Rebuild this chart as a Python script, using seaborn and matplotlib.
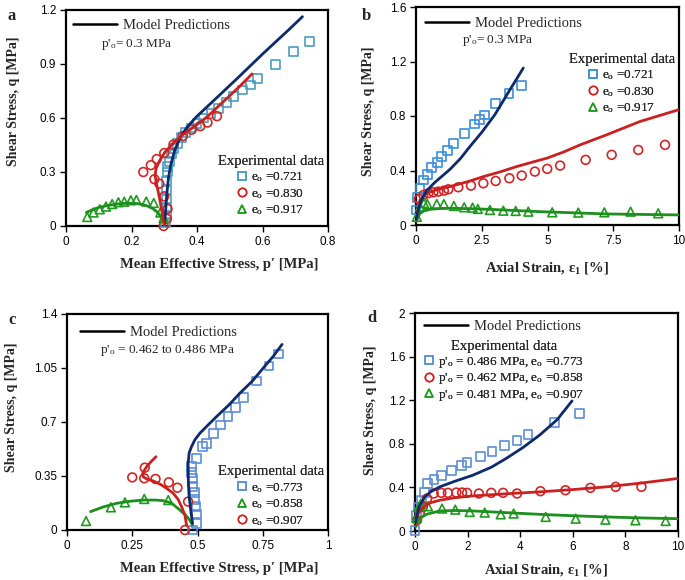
import matplotlib
matplotlib.use("Agg")
import matplotlib.pyplot as plt
import seaborn as sns
from matplotlib.lines import Line2D

# ---------------- Panel a : q vs p' (p'o = 0.3 MPa) ----------------
a_sq_p = [0.305, 0.306, 0.306, 0.307, 0.307, 0.308, 0.309, 0.311, 0.315, 0.322, 0.330, 0.340,
          0.352, 0.366, 0.382, 0.400, 0.420, 0.443, 0.466, 0.489, 0.512, 0.540, 0.563, 0.584,
          0.640, 0.695, 0.744]
a_sq_q = [0.02, 0.06, 0.10, 0.15, 0.20, 0.25, 0.30, 0.33, 0.36, 0.40, 0.43, 0.46,
          0.49, 0.52, 0.545, 0.57, 0.60, 0.625, 0.651, 0.688, 0.718, 0.755, 0.783, 0.820,
          0.899, 0.968, 1.027]
a_ci_p = [0.298, 0.308, 0.310, 0.300, 0.285, 0.270, 0.236, 0.259, 0.277, 0.300, 0.328, 0.357,
          0.384, 0.410, 0.432, 0.461]
a_ci_q = [0.00, 0.04, 0.095, 0.165, 0.235, 0.26, 0.300, 0.338, 0.372, 0.405, 0.452, 0.500,
          0.535, 0.555, 0.575, 0.610]
a_tr_p = [0.065, 0.084, 0.103, 0.122, 0.141, 0.160, 0.178, 0.198, 0.215, 0.245, 0.268, 0.288, 0.298]
a_tr_q = [0.05, 0.075, 0.093, 0.108, 0.122, 0.132, 0.135, 0.143, 0.145, 0.136, 0.128, 0.075, 0.045]
a_mb_p = [0.300, 0.304, 0.308, 0.313, 0.320, 0.332, 0.348, 0.370, 0.400, 0.450, 0.520, 0.600, 0.680, 0.722]
a_mb_q = [0.0, 0.08, 0.18, 0.27, 0.34, 0.42, 0.49, 0.55, 0.61, 0.695, 0.815, 0.955, 1.09, 1.163]
a_mr_p = [0.300, 0.293, 0.285, 0.277, 0.272, 0.275, 0.285, 0.302, 0.325, 0.355, 0.390, 0.430, 0.480, 0.530, 0.568]
a_mr_q = [0.0, 0.08, 0.16, 0.23, 0.28, 0.32, 0.36, 0.41, 0.455, 0.505, 0.55, 0.605, 0.69, 0.775, 0.845]
a_mg_p = [0.062, 0.080, 0.100, 0.130, 0.160, 0.190, 0.220, 0.245, 0.265, 0.280, 0.292, 0.300]
a_mg_q = [0.075, 0.090, 0.103, 0.115, 0.123, 0.127, 0.124, 0.114, 0.097, 0.075, 0.048, 0.015]

# ---------------- Panel b : q vs axial strain (p'o = 0.3 MPa) ----------------
b_sq_e = [0.0, 0.05, 0.15, 0.28, 0.43, 0.60, 0.81, 0.98, 1.19, 1.44, 1.83, 2.21, 2.41, 2.59, 3.03, 3.54, 4.02]
b_sq_q = [0.11, 0.203, 0.27, 0.33, 0.37, 0.42, 0.46, 0.50, 0.546, 0.60, 0.674, 0.742, 0.777, 0.808, 0.889, 0.968, 1.022]
b_ci_e = [0.11, 0.28, 0.47, 0.66, 0.85, 1.06, 1.23, 1.61, 2.09, 2.56, 3.03, 3.55, 4.02, 4.52, 4.99, 5.48,
          6.45, 7.44, 8.45, 9.47]
b_ci_q = [0.19, 0.22, 0.233, 0.24, 0.245, 0.252, 0.262, 0.277, 0.289, 0.306, 0.323, 0.343, 0.363, 0.392,
          0.412, 0.436, 0.478, 0.515, 0.551, 0.588]
b_tr_e = [0.03, 0.15, 0.30, 0.43, 0.79, 1.06, 1.44, 1.83, 2.15, 2.35, 2.81, 3.32, 3.79, 4.27, 5.18, 6.17,
          7.16, 8.16, 9.21]
b_tr_q = [0.06, 0.135, 0.16, 0.154, 0.154, 0.154, 0.14, 0.13, 0.127, 0.118, 0.11, 0.105, 0.103, 0.098,
          0.093, 0.091, 0.093, 0.098, 0.086]
b_mb_e = [0.0, 0.1, 0.2, 0.4, 0.7, 1.0, 1.3, 1.7, 2.05, 2.5, 3.0, 3.5, 4.08]
b_mb_q = [0.04, 0.12, 0.18, 0.25, 0.31, 0.36, 0.41, 0.49, 0.576, 0.68, 0.81, 0.97, 1.152]
b_mr_e = [0.0, 0.15, 0.41, 0.8, 1.29, 2.0, 2.56, 3.2, 3.83, 4.4, 4.97, 5.6, 6.24, 7.25, 8.52, 9.97]
b_mr_q = [0.037, 0.184, 0.233, 0.26, 0.282, 0.32, 0.355, 0.39, 0.429, 0.46, 0.49, 0.535, 0.588, 0.662, 0.76, 0.845]
b_mg_e = [0.0, 0.15, 0.3, 0.53, 0.9, 1.29, 2.0, 2.81, 4.71, 7.25, 9.97]
b_mg_q = [0.025, 0.086, 0.103, 0.115, 0.121, 0.123, 0.12, 0.115, 0.098, 0.081, 0.074]

# ---------------- Panel c : q vs p' (p'o = 0.462 to 0.486 MPa) ----------------
c_sq_p = [0.481, 0.496, 0.496, 0.494, 0.490, 0.490, 0.483, 0.481, 0.478, 0.478, 0.496, 0.519, 0.534,
          0.560, 0.588, 0.617, 0.645, 0.675, 0.726, 0.774, 0.809]
c_sq_q = [0.0, 0.043, 0.104, 0.151, 0.199, 0.244, 0.281, 0.335, 0.372, 0.41, 0.464, 0.54, 0.562,
          0.627, 0.681, 0.735, 0.795, 0.86, 0.966, 1.063, 1.141]
c_tr_p = [0.073, 0.168, 0.222, 0.296, 0.388]
c_tr_q = [0.058, 0.147, 0.179, 0.201, 0.194]
c_ci_p = [0.452, 0.464, 0.423, 0.390, 0.339, 0.296, 0.250, 0.298]
c_ci_q = [0.0, 0.184, 0.274, 0.309, 0.331, 0.335, 0.341, 0.404]
c_mb_p = [0.481, 0.474, 0.468, 0.465, 0.464, 0.468, 0.477, 0.490, 0.509, 0.540, 0.573, 0.620, 0.662, 0.710, 0.751, 0.790, 0.824]
c_mb_q = [0.043, 0.13, 0.216, 0.30, 0.432, 0.50, 0.54, 0.585, 0.627, 0.68, 0.735, 0.81, 0.886, 0.965, 1.048, 1.125, 1.203]
c_mg_p = [0.090, 0.140, 0.190, 0.240, 0.292, 0.340, 0.369, 0.400, 0.432, 0.455, 0.470, 0.481]
c_mg_q = [0.119, 0.150, 0.173, 0.186, 0.194, 0.194, 0.190, 0.175, 0.13, 0.095, 0.065, 0.032]
c_mr_p = [0.458, 0.452, 0.439, 0.425, 0.407, 0.380, 0.356, 0.330, 0.305, 0.292, 0.290, 0.298, 0.305, 0.322, 0.341]
c_mr_q = [0.032, 0.095, 0.151, 0.200, 0.238, 0.272, 0.298, 0.318, 0.331, 0.345, 0.367, 0.392, 0.41, 0.443, 0.475]

# ---------------- Panel d : q vs axial strain ----------------
d_sq_e = [0.0, 0.06, 0.14, 0.24, 0.37, 0.49, 0.72, 1.0, 1.38, 1.76, 1.98, 2.48, 2.93, 3.41, 3.88, 4.3, 5.29, 6.26]
d_sq_q = [0.006, 0.14, 0.22, 0.28, 0.353, 0.436, 0.472, 0.512, 0.558, 0.598, 0.626, 0.681, 0.727, 0.782, 0.828, 0.887, 0.997, 1.08]
d_ci_e = [0.08, 0.18, 0.30, 0.46, 0.71, 1.0, 1.25, 1.57, 1.79, 1.98, 2.43, 2.9, 3.35, 3.88, 4.77, 5.72, 6.67, 7.63, 8.61]
d_ci_q = [0.10, 0.166, 0.22, 0.298, 0.344, 0.35, 0.35, 0.353, 0.353, 0.35, 0.344, 0.35, 0.35, 0.344, 0.365, 0.374, 0.396, 0.405, 0.405]
d_tr_e = [0.05, 0.14, 0.22, 0.49, 1.03, 1.53, 2.08, 2.65, 3.26, 3.75, 4.97, 6.11, 7.24, 8.38, 9.53]
d_tr_q = [0.12, 0.22, 0.25, 0.227, 0.206, 0.196, 0.175, 0.169, 0.153, 0.16, 0.129, 0.113, 0.104, 0.098, 0.092]
d_mb_e = [0.0, 0.15, 0.37, 0.6, 0.94, 1.5, 2.2, 2.9, 3.47, 4.1, 4.74, 5.4, 5.97]
d_mb_q = [0.067, 0.22, 0.313, 0.36, 0.405, 0.455, 0.512, 0.585, 0.666, 0.765, 0.88, 1.02, 1.193]
d_mr_e = [0.0, 0.12, 0.3, 0.6, 0.94, 1.5, 2.2, 3.5, 4.74, 6.0, 7.27, 8.6, 10.0]
d_mr_q = [0.052, 0.16, 0.22, 0.26, 0.282, 0.305, 0.322, 0.342, 0.359, 0.38, 0.405, 0.44, 0.482]
d_mg_e = [0.0, 0.15, 0.43, 0.94, 1.5, 2.2, 3.5, 4.74, 6.0, 7.27, 8.6, 10.0]
d_mg_q = [0.03, 0.11, 0.153, 0.184, 0.188, 0.184, 0.168, 0.153, 0.14, 0.129, 0.12, 0.113]

# tick labels
a_xticks = [0, 0.2, 0.4, 0.6, 0.8]; a_yticks = [0, 0.3, 0.6, 0.9, 1.2]
b_xticks = [0, 2.5, 5, 7.5, 10];    b_yticks = [0, 0.4, 0.8, 1.2, 1.6]
c_xticks = [0, 0.25, 0.5, 0.75, 1]; c_yticks = [0, 0.35, 0.7, 1.05, 1.4]
d_xticks = [0, 2, 4, 6, 8, 10];     d_yticks = [0, 0.4, 0.8, 1.2, 1.6, 2]

# ---------------- style ----------------
sns.set_theme(style="ticks")
plt.rcParams.update({
    "font.family": ["Liberation Sans", "DejaVu Sans"],
    "mathtext.fontset": "custom",
    "mathtext.rm": "Liberation Serif",
    "mathtext.it": "Liberation Serif:italic",
    "mathtext.bf": "Liberation Serif:bold",
    "axes.linewidth": 1.6,
    "axes.edgecolor": "black",
})

NAVY = "#0d2a6e"
RED_L = "#cc1f1f"
GREEN_L = "#1c8f1c"
RED_M = "#d42424"
GREEN_M = "#1f9a1f"
BLUE_A = "#4a9dbf"
BLUE_B = "#3a8edb"
BLUE_C = "#5b8ed6"

SERIF = ["Liberation Serif", "DejaVu Serif"]

fig = plt.figure(figsize=(6.85, 5.8), dpi=100)
W, H = 685.0, 580.0


def add_ax(l, r, t, b):
    return fig.add_axes([l / W, 1 - b / H, (r - l) / W, (b - t) / H])


axa = add_ax(66, 328, 10, 226)
axb = add_ax(416, 679, 7, 225)
axc = add_ax(67, 328, 314, 530)
axd = add_ax(415, 678, 313, 531)


def pts(ax, x, y, marker, color, s=40):
    sns.scatterplot(x=x, y=y, marker=marker, s=s, facecolor="none", edgecolor=color,
                    linewidth=1.2, ax=ax, zorder=3, clip_on=False, legend=False)


def line(ax, x, y, color):
    sns.lineplot(x=x, y=y, sort=False, estimator=None, color=color, lw=2.0, ax=ax,
                 zorder=4, legend=False)


def fmt(ax, xlim, ylim, xt, yt, xlabel, xl_pos, yl_pos):
    ax.set_xlim(*xlim)
    ax.set_ylim(*ylim)
    ax.set_xticks(xt)
    ax.set_yticks(yt)
    ax.set_xticklabels([f"{v:g}" for v in xt])
    ax.set_yticklabels([f"{v:g}" for v in yt])
    ax.tick_params(direction="out", length=4, width=1.0, labelsize=8.5, pad=3, colors="black")
    for sp in ax.spines.values():
        sp.set_visible(True)
        sp.set_linewidth(1.6)
    ax.set_xlabel(xlabel, fontsize=10.5, fontweight="bold", family=SERIF)
    ax.set_ylabel("Shear Stress, q [MPa]", fontsize=10, fontweight="bold", family=SERIF)
    ax.xaxis.set_label_coords(*xl_pos)
    ax.yaxis.set_label_coords(*yl_pos)


def model_legend(ax, xy):
    h = [Line2D([], [], color="black", lw=1.8)]
    lg = ax.legend(h, ["Model Predictions"], loc="upper left", bbox_to_anchor=xy,
                   frameon=False, borderpad=0, borderaxespad=0, handlelength=3.0,
                   handletextpad=0.45, prop={"family": SERIF, "size": 10.5})
    ax.add_artist(lg)
    return lg


def exp_legend(ax, labels, markers, colors, xy, loc="upper right", title="Experimental data",
               tsize=10.5, lsize=9.5, spacing=0.2):
    h = [Line2D([], [], ls="none", marker=m, mfc="none", mec=c, mew=1.1, ms=6)
         for m, c in zip(markers, colors)]
    lg = ax.legend(h, labels, loc=loc, bbox_to_anchor=xy, frameon=False, borderpad=0,
                   borderaxespad=0, handlelength=0.7, handletextpad=0.35, labelspacing=spacing,
                   title=title, title_fontproperties={"family": SERIF, "size": tsize},
                   prop={"family": SERIF, "size": lsize})
    ax.add_artist(lg)
    return lg


E0 = r"e$_\mathrm{o}$"
PO = r"p'$_\mathrm{o}$"

# ---------------- Panel a ----------------
pts(axa, a_sq_p, a_sq_q, "s", BLUE_A)
pts(axa, a_ci_p, a_ci_q, "o", RED_M)
pts(axa, a_tr_p, a_tr_q, "^", GREEN_M)
line(axa, a_mg_p, a_mg_q, GREEN_L)
line(axa, a_mb_p, a_mb_q, NAVY)
line(axa, a_mr_p, a_mr_q, RED_L)
fmt(axa, (0, 0.8), (0, 1.2), a_xticks, a_yticks, "Mean Effective Stress, p′ [MPa]",
    (0.584, -0.148), (-0.176, 0.579))
model_legend(axa, (0.027, 0.96))
axa.text(0.134, 0.84, PO + "= 0.3 MPa", transform=axa.transAxes, family=SERIF, fontsize=9.5,
         va="center")
exp_legend(axa, [E0 + " =0.721", E0 + " =0.830", E0 + " =0.917"], ["s", "o", "^"],
           [BLUE_A, RED_M, GREEN_M], (0.985, 0.33))

# ---------------- Panel b ----------------
pts(axb, b_sq_e, b_sq_q, "s", BLUE_B)
pts(axb, b_ci_e, b_ci_q, "o", RED_M)
pts(axb, b_tr_e, b_tr_q, "^", GREEN_M)
line(axb, b_mg_e, b_mg_q, GREEN_L)
line(axb, b_mr_e, b_mr_q, RED_L)
line(axb, b_mb_e, b_mb_q, NAVY)
fmt(axb, (0, 10), (0, 1.6), b_xticks, b_yticks, r"Axial Strain, ε$_\mathbf{1}$ [%]",
    (0.5, -0.16), (-0.156, 0.523))
model_legend(axb, (0.034, 0.955))
axb.text(0.175, 0.845, PO + "= 0.3 MPa", transform=axb.transAxes, family=SERIF, fontsize=9.5,
         va="center")
exp_legend(axb, [E0 + " =0.721", E0 + " =0.830", E0 + " =0.917"], ["s", "o", "^"],
           [BLUE_B, RED_M, GREEN_M], (0.985, 0.79))

# ---------------- Panel c ----------------
pts(axc, c_sq_p, c_sq_q, "s", BLUE_C)
pts(axc, c_tr_p, c_tr_q, "^", GREEN_M)
pts(axc, c_ci_p, c_ci_q, "o", RED_M)
line(axc, c_mg_p, c_mg_q, GREEN_L)
line(axc, c_mr_p, c_mr_q, RED_L)
line(axc, c_mb_p, c_mb_q, NAVY)
fmt(axc, (0, 1), (0, 1.4), c_xticks, c_yticks, "Mean Effective Stress, p′ [MPa]",
    (0.584, -0.148), (-0.188, 0.569))
model_legend(axc, (0.05, 0.945))
axc.text(0.127, 0.83, PO + " = 0.462 to 0.486 MPa", transform=axc.transAxes, family=SERIF,
         fontsize=9.5, va="center")
exp_legend(axc, [E0 + " =0.773", E0 + " =0.858", E0 + " =0.907"], ["s", "^", "o"],
           [BLUE_C, GREEN_M, RED_M], (0.985, 0.30))

# ---------------- Panel d ----------------
pts(axd, d_sq_e, d_sq_q, "s", BLUE_C)
pts(axd, d_ci_e, d_ci_q, "o", RED_M)
pts(axd, d_tr_e, d_tr_q, "^", GREEN_M)
line(axd, d_mg_e, d_mg_q, GREEN_L)
line(axd, d_mr_e, d_mr_q, RED_L)
line(axd, d_mb_e, d_mb_q, NAVY)
fmt(axd, (0, 10), (0, 2), d_xticks, d_yticks, r"Axial Strain, ε$_\mathbf{1}$ [%]",
    (0.5, -0.142), (-0.144, 0.555))
model_legend(axd, (0.034, 0.97))
exp_legend(axd, [PO + " = 0.486 MPa, " + E0 + " =0.773",
                 PO + " = 0.462 MPa, " + E0 + " =0.858",
                 PO + " = 0.481 MPa, " + E0 + " =0.907"], ["s", "o", "^"],
           [BLUE_C, RED_M, GREEN_M], (0.035, 0.875), loc="upper left", spacing=0.12)

# panel letters
for ch, x, y in [("a", 8, 16), ("b", 362, 16), ("c", 8, 320), ("d", 367, 318)]:
    fig.text(x / W, 1 - y / H, ch, family=SERIF, fontweight="bold", fontsize=12, va="center")

fig.savefig("out.png", dpi=100)
